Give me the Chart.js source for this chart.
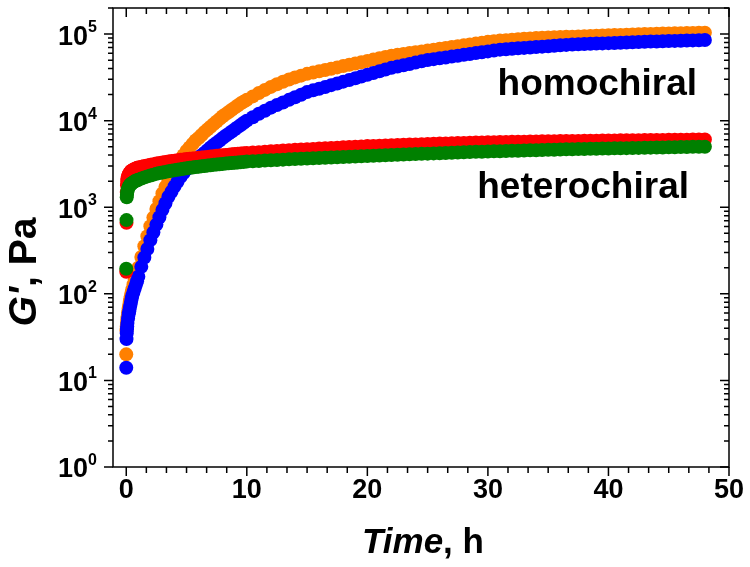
<!DOCTYPE html>
<html>
<head>
<meta charset="utf-8">
<script src="https://cdn.jsdelivr.net/npm/chart.js@4.4.1/dist/chart.umd.min.js"></script>
<style>
  html, body { margin: 0; padding: 0; background: #fff; }
  #wrap { width: 750px; height: 567px; }
</style>
</head>
<body>
<div id="wrap"><canvas id="gChart" width="750" height="567"></canvas></div>
<script>
// time points (h)
const times = [0, 0.02, 0.04, 0.06, 0.08, 0.1, 0.15, 0.2, 0.25, 0.3, 0.35, 0.4, 0.45, 0.5, 0.6, 0.7, 0.8, 0.9,
    1, 1.25, 1.5, 1.75, 2, 2.25, 2.5, 2.75, 3, 3.25, 3.5, 3.75, 4, 4.25, 4.5, 4.75, 5, 5.25, 5.5, 5.75,
    6, 6.25, 6.5, 6.75, 7, 7.25, 7.5, 7.75, 8, 8.25, 8.5, 8.75, 9, 9.25, 9.5, 9.75, 10,
    10.5, 11, 11.5, 12, 12.5, 13, 13.5, 14, 14.5, 15, 15.5, 16, 16.5, 17, 17.5, 18, 18.5, 19, 19.5, 20,
    20.5, 21, 21.5, 22, 22.5, 23, 23.5, 24, 24.5, 25, 25.5, 26, 26.5, 27, 27.5, 28, 28.5, 29, 29.5, 30,
    30.5, 31, 31.5, 32, 32.5, 33, 33.5, 34, 34.5, 35, 35.5, 36, 36.5, 37, 37.5, 38, 38.5, 39, 39.5, 40,
    40.5, 41, 41.5, 42, 42.5, 43, 43.5, 44, 44.5, 45, 45.5, 46, 46.5, 47, 47.5, 48];

// G' (Pa), homochiral samples
const orangeG = [20, 38, 42, 46, 50, 54, 61, 68, 75, 82, 89, 96, 104, 112, 128, 146, 166, 186,
    200, 266, 355, 462, 603, 759, 955, 1175, 1445, 1720, 2040, 2370, 2750, 3130, 3550, 3980, 4470, 4900, 5370, 5890,
    6310, 6840, 7410, 7940, 8510, 9120, 9770, 10470, 11220, 11890, 12590, 13340, 14130, 14960, 15850, 16600, 17380,
    19050, 20890, 22650, 24550, 26300, 28180, 29850, 31600, 33100, 34700, 35900, 37200, 38500, 39800, 41200, 42700, 44200, 45700, 47300, 49000,
    50700, 52500, 54300, 56200, 57500, 58900, 60300, 61700, 63100, 64600, 66100, 67600, 69200, 70800, 72400, 74100, 75900, 77600, 79400, 81300,
    82800, 84100, 85100, 86100, 87100, 88100, 89100, 90200, 90800, 91200, 91800, 92300, 92900, 93300, 94000, 94400, 95100, 95500, 96200, 96600,
    97300, 97700, 98400, 98900, 99500, 100000, 100500, 100700, 101200, 101400, 101900, 102100, 102600, 102800, 103300, 103500];
const blueG = [14, 30, 35, 39, 42, 46, 52, 58, 63, 69, 75, 81, 88, 95, 105, 115, 127, 140,
    158, 205, 263, 330, 417, 513, 630, 767, 933, 1110, 1320, 1510, 1740, 1970, 2240, 2480, 2750, 2990, 3240, 3470,
    3720, 3980, 4270, 4570, 4900, 5250, 5560, 5890, 6310, 6680, 7080, 7500, 7940, 8410, 8910, 9440, 10000,
    10960, 12020, 13030, 14130, 15140, 16220, 17380, 18620, 19950, 21380, 22400, 23400, 24500, 25700, 26900, 28200, 29500, 30900, 32400, 33900,
    35500, 37200, 38900, 40700, 42200, 43700, 45200, 46800, 48400, 50100, 51300, 52500, 53700, 55000, 56200, 57500, 58900, 60300, 61700, 63100,
    64600, 66100, 66800, 67600, 68400, 69200, 70000, 70800, 71600, 72400, 73300, 74100, 75000, 75900, 76300, 76700, 77200, 77600, 78000, 78500,
    79000, 79400, 79900, 80400, 80800, 81300, 81800, 82200, 82600, 83000, 83400, 83800, 84100, 84500, 84900, 85300];

// G' (Pa), heterochiral samples
const redG = [180, 660, 1500, 1800, 2000, 2150, 2280, 2380, 2450, 2510, 2560, 2600, 2640, 2670, 2720, 2770, 2810, 2850,
    2880, 2940, 2990, 3040, 3090, 3140, 3190, 3240, 3290, 3330, 3370, 3410, 3450, 3490, 3530, 3565, 3600, 3630, 3660, 3690,
    3720, 3750, 3780, 3815, 3850, 3885, 3920, 3955, 3990, 4020, 4050, 4080, 4110, 4140, 4170, 4200, 4230,
    4280, 4330, 4380, 4430, 4475, 4520, 4560, 4600, 4640, 4680, 4720, 4760, 4800, 4840, 4880, 4920, 4960, 5000, 5040, 5080,
    5110, 5140, 5170, 5200, 5230, 5260, 5290, 5320, 5350, 5380, 5405, 5430, 5455, 5480, 5505, 5530, 5555, 5580, 5600, 5620,
    5640, 5660, 5675, 5690, 5705, 5720, 5735, 5750, 5765, 5780, 5792, 5804, 5816, 5828, 5840, 5852, 5864, 5876, 5888, 5900,
    5910, 5920, 5930, 5940, 5950, 5960, 5970, 5980, 5990, 6000, 6010, 6020, 6030, 6040, 6045, 6050];
const greenG = [195, 710, 1300, 1400, 1480, 1550, 1640, 1710, 1760, 1800, 1830, 1860, 1885, 1910, 1950, 1990, 2020, 2050,
    2080, 2150, 2210, 2270, 2330, 2380, 2430, 2480, 2520, 2560, 2600, 2640, 2680, 2715, 2750, 2785, 2820, 2850, 2880, 2910,
    2940, 2970, 3000, 3030, 3060, 3090, 3115, 3140, 3165, 3190, 3215, 3240, 3265, 3290, 3315, 3340, 3365,
    3395, 3425, 3455, 3485, 3515, 3545, 3575, 3605, 3635, 3660, 3685, 3710, 3735, 3760, 3785, 3810, 3835, 3860, 3885, 3910,
    3935, 3960, 3985, 4010, 4035, 4060, 4085, 4110, 4135, 4160, 4185, 4210, 4235, 4260, 4285, 4310, 4335, 4360, 4380, 4400,
    4420, 4440, 4460, 4480, 4500, 4520, 4540, 4560, 4580, 4600, 4620, 4640, 4660, 4680, 4695, 4710, 4725, 4740, 4755, 4770,
    4785, 4800, 4815, 4830, 4845, 4860, 4875, 4890, 4905, 4920, 4935, 4950, 4965, 4980, 4990, 5000];

const xMajor = [0, 10, 20, 30, 40, 50];
const yDecades = [0, 1, 2, 3, 4, 5];

const FONT = '"Liberation Sans", Arial, sans-serif';

function pts(vals) {
    return times.map((t, i) => ({ x: t, y: vals[i] }));
}

function series(label, vals, color) {
    return {
        label: label,
        data: pts(vals),
        backgroundColor: color,
        borderColor: color,
        pointRadius: 7,
        pointBorderWidth: 0,
        pointHoverRadius: 7,
        showLine: false
    };
}

// frame, ticks, labels and titles
const framePlugin = {
    id: 'frame',
    afterDraw(chart) {
        const ctx = chart.ctx;
        const a = chart.chartArea;
        const xs = chart.scales.x;
        const ys = chart.scales.y;
        ctx.save();
        ctx.strokeStyle = '#000';
        ctx.lineWidth = 1.5;
        ctx.strokeRect(a.left, a.top, a.right - a.left, a.bottom - a.top);

        ctx.beginPath();
        // x ticks: major every 10, minor every 10/6
        for (let i = 0; i <= 30; i++) {
            const v = i * 10 / 6;
            const px = xs.getPixelForValue(v);
            const len = (i % 6 === 0) ? 9 : 6;
            ctx.moveTo(px, a.bottom); ctx.lineTo(px, a.bottom + len);
            ctx.moveTo(px, a.top); ctx.lineTo(px, a.top + len);
        }
        // y ticks: decades + 2..9
        for (let d = 0; d <= 5; d++) {
            for (let m = 1; m <= 9; m++) {
                const v = m * Math.pow(10, d);
                if (v > ys.max) break;
                const py = ys.getPixelForValue(v);
                const len = (m === 1) ? 9 : 5;
                ctx.moveTo(a.left, py); ctx.lineTo(a.left - len, py);
                ctx.moveTo(a.right, py); ctx.lineTo(a.right - len, py);
            }
        }
        ctx.stroke();

        ctx.fillStyle = '#000';
        // x tick labels
        ctx.font = 'bold 27px ' + FONT;
        ctx.textAlign = 'center';
        ctx.textBaseline = 'middle';
        xMajor.forEach(v => {
            ctx.fillText(String(v), xs.getPixelForValue(v), 491);
        });
        // y tick labels 10^n
        yDecades.forEach(d => {
            const py = ys.getPixelForValue(Math.pow(10, d));
            ctx.font = 'bold 16px ' + FONT;
            ctx.textAlign = 'left';
            ctx.textBaseline = 'alphabetic';
            ctx.fillText(String(d), 88, py - 2);
            ctx.font = 'bold 27px ' + FONT;
            ctx.textAlign = 'right';
            ctx.textBaseline = 'middle';
            ctx.fillText('10', 88, py + 3);
        });

        // x title: Time, h
        ctx.textBaseline = 'alphabetic';
        ctx.textAlign = 'left';
        ctx.font = 'italic bold 35px ' + FONT;
        const w1 = ctx.measureText('Time').width;
        ctx.font = 'bold 35px ' + FONT;
        const w2 = ctx.measureText(', h').width;
        let sx = 423 - (w1 + w2) / 2;
        ctx.font = 'italic bold 35px ' + FONT;
        ctx.fillText('Time', sx, 553);
        ctx.font = 'bold 35px ' + FONT;
        ctx.fillText(', h', sx + w1, 553);

        // y title: G', Pa
        ctx.save();
        ctx.translate(36, 272);
        ctx.rotate(-Math.PI / 2);
        ctx.font = 'italic bold 39px ' + FONT;
        const g1 = ctx.measureText("G'").width;
        ctx.font = 'bold 39px ' + FONT;
        const g2 = ctx.measureText(', Pa').width;
        sx = -(g1 + g2) / 2;
        ctx.font = 'italic bold 39px ' + FONT;
        ctx.fillText("G'", sx, 0);
        ctx.font = 'bold 39px ' + FONT;
        ctx.fillText(', Pa', sx + g1, 0);
        ctx.restore();

        // series annotations
        ctx.font = 'bold 37px ' + FONT;
        ctx.textAlign = 'right';
        ctx.textBaseline = 'alphabetic';
        ctx.fillText('homochiral', 697, 95);
        ctx.fillText('heterochiral', 689, 198);
        ctx.restore();
    }
};

new Chart(document.getElementById('gChart'), {
    type: 'scatter',
    data: {
        // first dataset is drawn on top
        datasets: [
            series('heterochiral 2', greenG, '#008000'),
            series('heterochiral 1', redG, '#FF0000'),
            series('homochiral 2', blueG, '#0000FF'),
            series('homochiral 1', orangeG, '#FF8000')
        ]
    },
    options: {
        responsive: false,
        animation: false,
        layout: { padding: { left: 0, right: 21, top: 8, bottom: 0 } },
        plugins: {
            legend: { display: false },
            tooltip: { enabled: false }
        },
        scales: {
            x: {
                type: 'linear',
                min: -1.1,
                max: 50,
                grid: { display: false },
                border: { display: false },
                ticks: { display: false },
                afterFit: s => { s.height = 100; }
            },
            y: {
                type: 'logarithmic',
                min: 1,
                max: 200000,
                grid: { display: false },
                border: { display: false },
                ticks: { display: false },
                afterFit: s => { s.width = 113; }
            }
        }
    },
    plugins: [framePlugin]
});
</script>
</body>
</html>
